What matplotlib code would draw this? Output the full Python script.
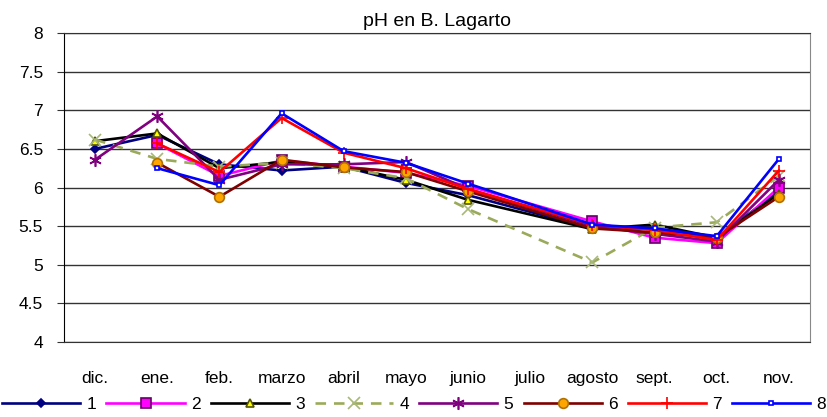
import matplotlib
matplotlib.use("Agg")
import matplotlib.pyplot as plt
import numpy as np

plt.rcParams['font.family'] = ['Liberation Sans', 'DejaVu Sans']

months = ["dic.", "ene.", "feb.", "marzo", "abril", "mayo", "junio", "julio",
          "agosto", "sept.", "oct.", "nov."]
N = None
s1 = [6.50, 6.68, 6.30, 6.22, 6.27, 6.06, 5.90, N, 5.47, 5.47, 5.35, 5.95]
s2 = [N, 6.57, 6.15, 6.35, 6.27, 6.19, 6.02, N, 5.56, 5.35, 5.28, 6.00]
s3 = [6.60, 6.70, 6.25, 6.33, 6.27, 6.10, 5.84, N, 5.46, 5.52, 5.35, 5.92]
s4 = [6.62, 6.37, 6.27, 6.32, 6.25, 6.12, 5.72, N, 5.03, 5.48, 5.55, 6.15]
s5 = [6.36, 6.92, 6.10, 6.30, 6.30, 6.33, 5.98, N, 5.50, 5.40, 5.30, 6.10]
s6 = [N, 6.32, 5.88, 6.36, 6.26, 6.20, 5.95, N, 5.47, 5.42, 5.35, 5.88]
s7 = [N, 6.57, 6.20, 6.90, 6.45, 6.25, 5.98, N, 5.52, 5.45, 5.32, 6.22]
s8 = [N, 6.25, 6.03, 6.96, 6.47, 6.32, 6.05, N, 5.52, 5.47, 5.37, 6.37]
labels = ["1", "2", "3", "4", "5", "6", "7", "8"]
series = [s1, s2, s3, s4, s5, s6, s7, s8]

styles = [
    dict(color="#000080", marker="D", ms=4, mfc="#000080", mec="#000080", ls="-"),
    dict(color="#FF00FF", marker="s", ms=7, mfc="#FF00FF", mec="#660066", ls="-"),
    dict(color="#000000", marker="^", ms=6, mfc="#FFFF00", mec="#555500", ls="-"),
    dict(color="#9AAA5A", marker="x", ms=8, mfc="none", mec="#A8B878", ls=(0, (4, 3))),
    dict(color="#800080", marker=(6, 2, 0), ms=9, mfc="#800080", mec="#800080", ls="-"),
    dict(color="#800000", marker="o", ms=7, mfc="#FFA500", mec="#B07000", ls="-"),
    dict(color="#FF0000", marker="+", ms=8, mfc="#FF0000", mec="#FF0000", ls="-"),
    dict(color="#0000FF", marker="s", ms=3.5, mfc="#FFFFFF", mec="#0000FF", ls="-"),
]

fig = plt.figure(figsize=(8.28, 4.17), dpi=100)
ax = fig.add_axes([64/828, 1-342/417, (810-64)/828, (342-33)/417])

x = np.arange(len(months))
handles = []
for vals, lab, st in zip(series, labels, styles):
    xs = [xi for xi, v in zip(x, vals) if v is not None]
    ys = [v for v in vals if v is not None]
    h, = ax.plot(xs, ys, color=st["color"], lw=1.9, ls=st["ls"], marker=st["marker"],
                 ms=st["ms"], mfc=st["mfc"], mec=st["mec"], mew=1.2, label=lab)
    handles.append(h)

ax.set_xlim(-0.5, len(months) - 0.5)
ax.set_ylim(4, 8)
ax.set_yticks(np.arange(4, 8.01, 0.5))
ax.set_yticklabels(["4", "4.5", "5", "5.5", "6", "6.5", "7", "7.5", "8"])
ax.set_xticks(x)
ax.set_xticklabels(months)
ax.yaxis.grid(True, color="#333333", lw=1.0)
ax.set_axisbelow(True)
ax.tick_params(axis="x", length=0, pad=21, labelsize=12.5)
ax.tick_params(axis="y", length=5, pad=10, labelsize=12.5, color="#333333")
ax.spines["top"].set_color("#333333")
ax.spines["bottom"].set_color("#333333")
ax.spines["left"].set_color("#000000")
ax.spines["right"].set_color("#888888")

ax.set_title("pH en B. Lagarto", fontsize=14, pad=5)

fig.legend(handles=handles, labels=labels, loc="center", bbox_to_anchor=(0.5, 0.029),
           ncol=8, frameon=False, fontsize=12.5, handlelength=4.5, handletextpad=0.35,
           columnspacing=0.6, borderpad=0, borderaxespad=0)

fig.savefig("out.png", dpi=100)
